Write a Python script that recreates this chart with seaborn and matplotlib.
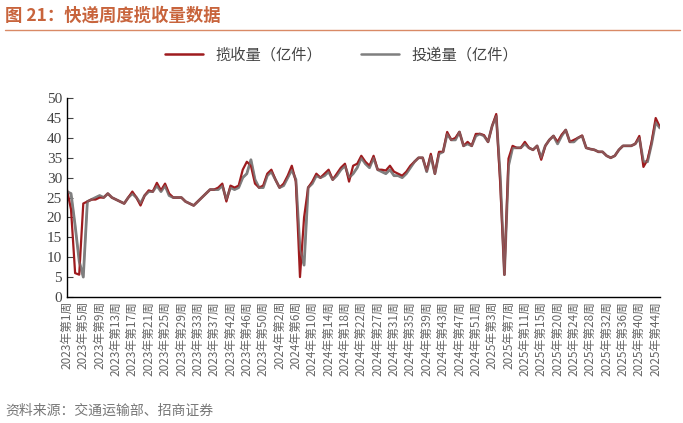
import matplotlib
matplotlib.use("Agg")
import matplotlib.pyplot as plt
import seaborn as sns
import pandas as pd
from matplotlib.lines import Line2D

sns.set_style("white")
plt.rcParams['font.family'] = ['Noto Sans CJK SC', 'DejaVu Sans']

tick_labels = (["2023年第%d周" % w for w in [1,5,9,13,17,21,25,29,33,37,42,46,50]] +
               ["2024年第%d周" % w for w in [2,6,10,14,18,22,27,31,35,39,43,47,51]] +
               ["2025年第%d周" % w for w in [3,7,11,15,20,24,28,32,36,40,44]])

collect = [27,22,6,5.6,23.5,24,24.5,24.5,25,25,26,25,24.5,24,23.5,25,26.5,25,23,25.5,
           26.8,26.5,28.7,26.8,28.5,26,25,25,25,24,23.5,23,24,25,26,27,27,27.5,28.5,24,
           28,27.5,28,32,34,33,28.5,27.5,28,31,32,29.5,27.5,28.5,30.5,33,29,5,20,27.5,
           29,31,30,31,32,29.5,31,32.5,33.5,29,33,33.5,35.5,34,33,35.5,32,32,31.8,33,
           31.5,31,30.5,31.5,33,34,35,35,31.7,36,31,36.5,36.5,41.5,39.5,40,41.5,38,39,38,
           41,41,40.7,39,43,46,28,5.6,34.8,38,37.5,37.5,39,37.5,37,38,34.5,38,39.5,40.5,
           39,40.8,42,39,39.5,40,40.6,37.5,37.2,37,36.5,36.5,35.5,35,35.5,37,38,38,38,38.5,
           40.5,32.7,34.5,39,45,42.8]
deliver = [26.5,26,18,9,5,24,24.5,25,25.5,25,26,25,24.5,24,23.5,25,26,25,23.5,25.5,
           26.5,26.5,28,26.5,28,25.5,25,25,25,24,23.5,23,24,25,26,27,27,27,28,24.5,
           27.5,27,27.5,30,31,34.5,29.5,27.5,27.5,30.5,31.5,29.5,27.5,28,30,32,29.5,12,8,27.5,
           28.5,30.5,30,30.5,31.5,29.5,30.5,32,33,30,31,32.5,35,33.5,32.5,35,32,31.5,31,32,
           30.5,30.5,30,31,32.5,34,35,35,31.5,35.5,31,36,36.5,41,39.5,39.5,41.5,38,38.5,38,
           40.5,41,40.5,39,43,45.5,30,5.6,33,37.5,37.5,37.5,38.5,37.5,37,38,35,38,39.5,40.5,
           38.5,40.5,42,39,39,40,40.5,37.5,37.2,37,36.5,36.5,35.5,35,35.5,37,38,38,38,38.5,
           40,34,34,38.5,44,42.5]

df = pd.DataFrame({"i": range(len(collect)), "揽收量（亿件）": collect, "投递量（亿件）": deliver})
red = "#9E1B1E"; grey = "#7F7F7F"

fig = plt.figure(figsize=(6.83, 4.23), dpi=100)
ax = fig.add_axes([0.098, 0.298, 0.868, 0.47])
sns.lineplot(data=df, x="i", y="投递量（亿件）", color=grey, lw=2, ax=ax)
sns.lineplot(data=df, x="i", y="揽收量（亿件）", color=red, lw=1.6, ax=ax)
sns.lineplot(data=df, x="i", y="投递量（亿件）", color=grey, lw=1.3, alpha=0.6, ax=ax)
ax.set_xlim(0, len(collect) - 1)
ax.set_ylim(0, 50)
ax.set_yticks(range(0, 51, 5))
ax.set_xticks(range(0, 4 * len(tick_labels), 4))
ax.set_xticklabels(tick_labels, rotation=90, fontsize=8.5, color="#666666")
ax.set_xticks(range(0, len(collect), 10), minor=True)
ax.tick_params(axis='x', which='major', length=0, pad=3)
ax.tick_params(axis='x', which='minor', length=4, color="black", direction='in')
ax.tick_params(axis='y', length=4, direction='in', left=True, labelsize=11, colors="#444444")
for lab in ax.get_yticklabels():
    lab.set_family(['Liberation Serif', 'DejaVu Serif'])
ax.set_xlabel(""); ax.set_ylabel("")
for s in ["top", "right"]:
    ax.spines[s].set_visible(False)
for s in ["left", "bottom"]:
    ax.spines[s].set_color("black")
    ax.spines[s].set_linewidth(1)
if ax.get_legend():
    ax.get_legend().remove()

handles = [Line2D([], [], color=red, lw=1.8), Line2D([], [], color=grey, lw=1.8)]
fig.legend(handles, ["揽收量（亿件）", "投递量（亿件）"], loc="center", bbox_to_anchor=(0.5, 0.87),
           ncol=2, frameon=False, fontsize=11, handlelength=2.5, columnspacing=2.5,
           labelcolor="#444444")

fig.text(0.008, 0.962, "图 21：快递周度揽收量数据", fontsize=12.5, fontweight="bold",
         color="#C8643C", va="center")
fig.add_artist(Line2D([0.008, 0.995], [0.928, 0.928], color="#D98A66", lw=1))
fig.text(0.008, 0.03, "资料来源：交通运输部、招商证券", fontsize=10, color="#777777", va="center")

fig.savefig("out.png", dpi=100)
